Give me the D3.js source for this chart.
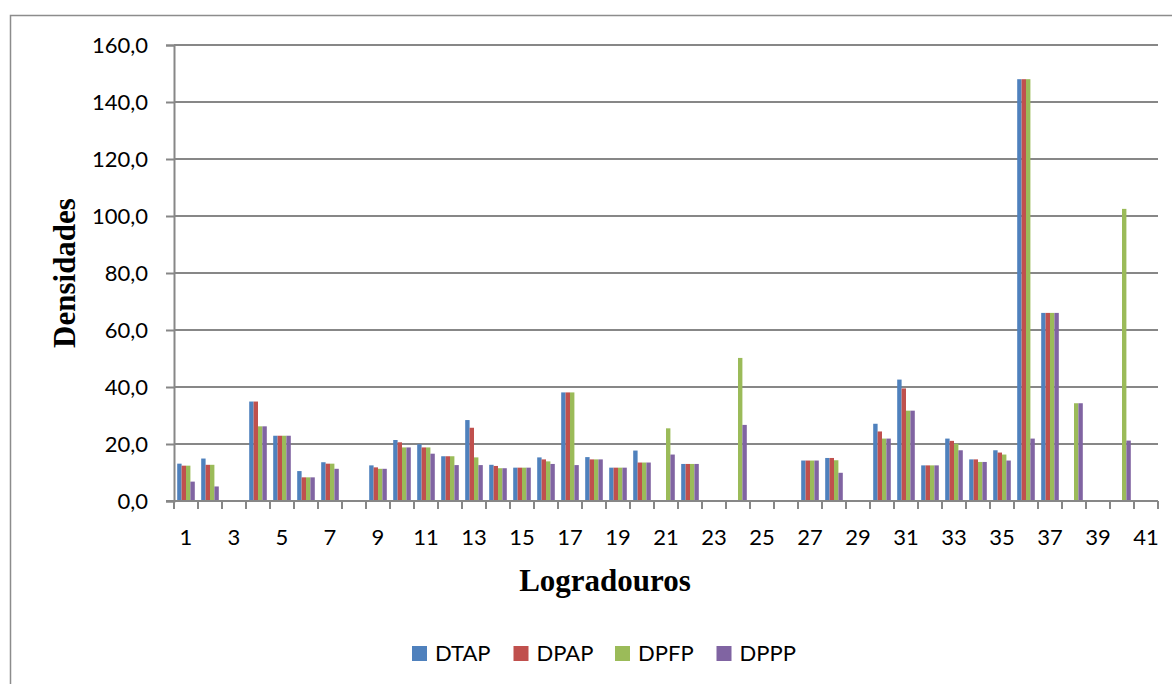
<!DOCTYPE html>
<html lang="pt">
<head>
    <meta charset="UTF-8">
    <title>Densidades por logradouro</title>
    <script src="https://d3js.org/d3.v7.min.js"></script>
    <style>
        body { margin: 0; background: #fff; }
        .tick-label { font-family: Lato, "Open Sans", sans-serif; font-size: 22px; fill: #000; }
        .axis-title { font-family: "Liberation Serif", "Times New Roman", serif; font-weight: bold; font-size: 31px; fill: #000; }
        .legend text { font-family: Lato, "Open Sans", sans-serif; font-size: 22px; fill: #000; }
    </style>
</head>
<body>
<script>
    // valores (0 = sem barra)
    var logradouros = d3.range(1, 42);
    var series = ["DTAP", "DPAP", "DPFP", "DPPP"];
    var cores = ["#4F81BD", "#C0504D", "#9BBB59", "#8064A2"];

    var DTAP = [13.1, 14.9, 0, 34.9, 22.9, 10.5, 13.6, 0, 12.5, 21.4, 19.9, 15.7, 28.4, 12.7, 11.7, 15.3, 38.1, 15.4, 11.7, 17.7,
        0, 13.0, 0, 0, 0, 0, 14.2, 15.1, 0, 27.1, 42.6, 12.5, 21.9, 14.6, 17.8, 148.0, 66.0, 0, 0, 0, 0];
    var DPAP = [12.4, 12.7, 0, 34.9, 22.9, 8.3, 13.1, 0, 11.8, 20.6, 18.8, 15.7, 25.7, 12.3, 11.7, 14.6, 38.1, 14.6, 11.7, 13.5,
        0, 13.0, 0, 0, 0, 0, 14.2, 15.1, 0, 24.4, 39.5, 12.5, 21.1, 14.6, 17.0, 148.0, 66.0, 0, 0, 0, 0];
    var DPFP = [12.4, 12.7, 0, 26.2, 22.9, 8.3, 13.1, 0, 11.3, 18.8, 18.8, 15.7, 15.3, 11.5, 11.7, 13.9, 38.1, 14.6, 11.7, 13.5,
        25.5, 13.0, 0, 50.2, 0, 0, 14.2, 14.3, 0, 21.9, 31.7, 12.5, 20.1, 13.7, 16.3, 148.0, 66.0, 34.3, 0, 102.5, 0];
    var DPPP = [6.8, 5.1, 0, 26.2, 22.9, 8.3, 11.3, 0, 11.3, 18.8, 16.6, 12.6, 12.6, 11.5, 11.7, 13.0, 12.6, 14.6, 11.7, 13.5,
        16.3, 13.0, 0, 26.7, 0, 0, 14.2, 9.9, 0, 21.9, 31.7, 12.5, 17.8, 13.7, 14.2, 21.9, 66.0, 34.3, 0, 21.2, 0];
    var yTicks = [0, 20, 40, 60, 80, 100, 120, 140, 160];

    var valores = [DTAP, DPAP, DPFP, DPPP];
    var width = 1172, height = 684;
    var mLeft = 174, mRight = 1158, mTop = 45, mBottom = 501;
    var cinza = "#878787";

    var svg = d3.select("body").append("svg")
        .attr("width", width)
        .attr("height", height);

    // borda da área do gráfico (direita e base ficam fora da imagem)
    svg.append("rect")
        .attr("x", 10.5).attr("y", 15.5)
        .attr("width", 1200).attr("height", 700)
        .attr("fill", "none").attr("stroke", "#8c8c8c").attr("stroke-width", 1.5);

    var x = d3.scaleBand().domain(logradouros).range([mLeft, mRight]).padding(0);
    var xs = d3.scaleBand().domain(series)
        .range([3.2, x.bandwidth() - 3.2]).padding(0);
    var y = d3.scaleLinear().domain([0, 160]).range([mBottom, mTop]);

    // linhas de grade
    svg.append("g").selectAll("line")
        .data(yTicks.slice(1))
        .join("line")
        .attr("x1", mLeft).attr("x2", mRight)
        .attr("y1", d => y(d)).attr("y2", d => y(d))
        .attr("stroke", cinza).attr("stroke-width", 2);

    // barras
    var grupos = svg.append("g").selectAll("g")
        .data(series)
        .join("g")
        .attr("fill", (d, i) => cores[i]);

    grupos.selectAll("rect")
        .data((s, i) => valores[i].map((v, j) => ({ s: s, c: logradouros[j], v: v })).filter(d => d.v > 0))
        .join("rect")
        .attr("x", d => x(d.c) + xs(d.s))
        .attr("width", xs.bandwidth())
        .attr("y", d => y(d.v))
        .attr("height", d => y(0) - y(d.v));

    // eixo y
    var yAxis = svg.append("g")
        .attr("transform", "translate(" + mLeft + ",0)")
        .call(d3.axisLeft(y).tickValues(yTicks).tickSize(8).tickPadding(18)
            .tickFormat(d => d3.format(".1f")(d).replace(".", ",")));
    yAxis.select(".domain").attr("stroke", cinza).attr("stroke-width", 2);
    yAxis.selectAll(".tick line").attr("stroke", cinza).attr("stroke-width", 2);
    yAxis.attr("font-size", null).attr("font-family", null);
    yAxis.selectAll(".tick text").attr("class", "tick-label");

    // eixo x: marcas nos limites das categorias, rótulos nos ímpares
    var xAxisG = svg.append("g");
    xAxisG.append("line")
        .attr("x1", mLeft - 8).attr("x2", mRight)
        .attr("y1", mBottom).attr("y2", mBottom)
        .attr("stroke", cinza).attr("stroke-width", 2);
    xAxisG.selectAll("line.tk")
        .data(logradouros.concat([42]))
        .join("line")
        .attr("class", "tk")
        .attr("x1", d => d <= 41 ? x(d) : mRight)
        .attr("x2", d => d <= 41 ? x(d) : mRight)
        .attr("y1", mBottom).attr("y2", mBottom + 8)
        .attr("stroke", cinza).attr("stroke-width", 2);
    xAxisG.selectAll("text")
        .data(logradouros.filter(d => d % 2 === 1))
        .join("text")
        .attr("class", "tick-label")
        .attr("x", d => x(d) + x.bandwidth() / 2)
        .attr("y", 545)
        .attr("text-anchor", "middle")
        .text(d => d);

    // títulos
    svg.append("text")
        .attr("class", "axis-title")
        .attr("x", 605).attr("y", 591)
        .attr("text-anchor", "middle")
        .text("Logradouros");
    svg.append("text")
        .attr("class", "axis-title")
        .attr("transform", "translate(75,273) rotate(-90)")
        .attr("text-anchor", "middle")
        .text("Densidades");

    // legenda
    var legend = svg.append("g").attr("class", "legend")
        .selectAll("g")
        .data(series)
        .join("g")
        .attr("transform", (d, i) => "translate(" + (412 + i * 101.5) + ",646)");
    legend.append("rect")
        .attr("width", 15).attr("height", 15)
        .attr("fill", (d, i) => cores[i]);
    legend.append("text")
        .attr("x", 23).attr("y", 15)
        .text(d => d);
</script>
</body>
</html>
